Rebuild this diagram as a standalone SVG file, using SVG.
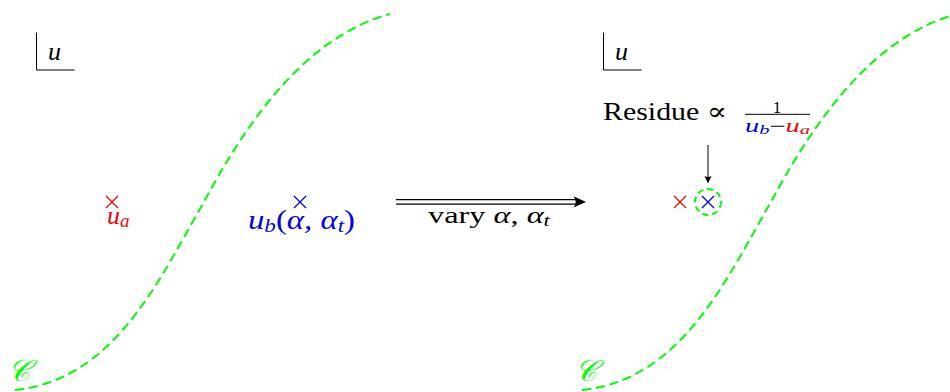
<svg xmlns="http://www.w3.org/2000/svg" width="950" height="392" viewBox="0 0 950 392">
<style>
.curve{fill:none;stroke:#00ff00;stroke-width:2;stroke-dasharray:9 5}
.m{font-family:"Liberation Serif","DejaVu Serif",serif;font-style:italic}
.r{font-family:"Liberation Serif","DejaVu Serif",serif}
.axis{fill:none;stroke:#000;stroke-width:1}
.xr{stroke:#ff0000;stroke-width:1.3}
.xb{stroke:#0000ff;stroke-width:1.3}
</style>
<defs>
<path id="cv" d="M15 390 C115 380 160 278 205 200 C240 135 300 38 390 14"/>
<g id="cross"><line x1="-6" y1="-6" x2="6" y2="6"/><line x1="-6" y1="6" x2="6" y2="-6"/></g>
</defs>

<g id="left-panel">
  <g id="left-axis">
    <path class="axis" d="M36.5 32.5 V70 H74.5"/>
    <text class="m" x="48" y="59.5" font-size="26">u</text>
  </g>
  <g id="left-contour">
    <use href="#cv" class="curve"/>
    <text class="m" x="8" y="381" font-size="30" fill="#00ff00">𝒞</text>
  </g>
  <g id="ua">
    <use href="#cross" class="xr" x="112" y="202"/>
    <text class="m" x="107" y="224" font-size="26" fill="#ff0000">u<tspan font-size="19" dy="3">a</tspan></text>
  </g>
  <g id="ub">
    <use href="#cross" class="xb" x="300" y="202"/>
    <text class="m" x="248" y="229" font-size="27" fill="#0000ff" textLength="107" lengthAdjust="spacingAndGlyphs">u<tspan font-size="19" dy="3">b</tspan><tspan dy="-3" font-style="normal">(</tspan>α, α<tspan font-size="19" dy="3">t</tspan><tspan dy="-3" font-style="normal">)</tspan></text>
  </g>
</g>

<g id="connectors">
  <g id="vary-arrow">
    <line x1="396" y1="199.6" x2="578" y2="199.6" stroke="#000" stroke-width="1.2"/>
    <line x1="396" y1="204.2" x2="578" y2="204.2" stroke="#000" stroke-width="1.2"/>
    <path d="M586 201.9 L573.5 196.3 Q578 201.9 573.5 207.5 Z" fill="#000"/>
    <text class="r" x="428" y="223" font-size="24" textLength="122" lengthAdjust="spacingAndGlyphs">vary <tspan class="m">α</tspan>, <tspan class="m">α</tspan><tspan class="m" font-size="17" dy="3">t</tspan></text>
  </g>
  <g id="residue-arrow">
    <line x1="708" y1="145" x2="708" y2="178" stroke="#000" stroke-width="1"/>
    <path d="M708 183.5 L704.5 176 Q708 178 711.5 176 Z" fill="#000"/>
  </g>
</g>

<g id="right-panel">
  <g id="right-axis">
    <path class="axis" d="M603.5 32.5 V70 H641.5"/>
    <text class="m" x="615" y="59.5" font-size="26">u</text>
  </g>
  <g id="right-contour">
    <use href="#cv" class="curve" transform="translate(567,0)"/>
    <text class="m" x="575" y="381" font-size="30" fill="#00ff00">𝒞</text>
  </g>
  <g id="residue">
    <text class="r" x="603" y="119.5" font-size="25" textLength="124" lengthAdjust="spacingAndGlyphs">Residue ∝</text>
    <text class="r" x="777" y="112.7" font-size="17" text-anchor="middle">1</text>
    <line x1="745" y1="114.3" x2="810" y2="114.3" stroke="#000" stroke-width="1"/>
    <text class="m" x="745" y="132" font-size="18" textLength="65" lengthAdjust="spacingAndGlyphs"><tspan fill="#0000ff">u</tspan><tspan fill="#0000ff" font-size="13" dy="2">b</tspan><tspan font-style="normal" dy="-2">−</tspan><tspan fill="#ff0000">u</tspan><tspan fill="#ff0000" font-size="13" dy="2">a</tspan></text>
  </g>
  <g id="poles">
    <use href="#cross" class="xr" x="680" y="202"/>
    <use href="#cross" class="xb" x="708" y="202"/>
    <circle cx="708" cy="202" r="13" fill="none" stroke="#00ff00" stroke-width="2" stroke-dasharray="6 4"/>
  </g>
</g>
</svg>
